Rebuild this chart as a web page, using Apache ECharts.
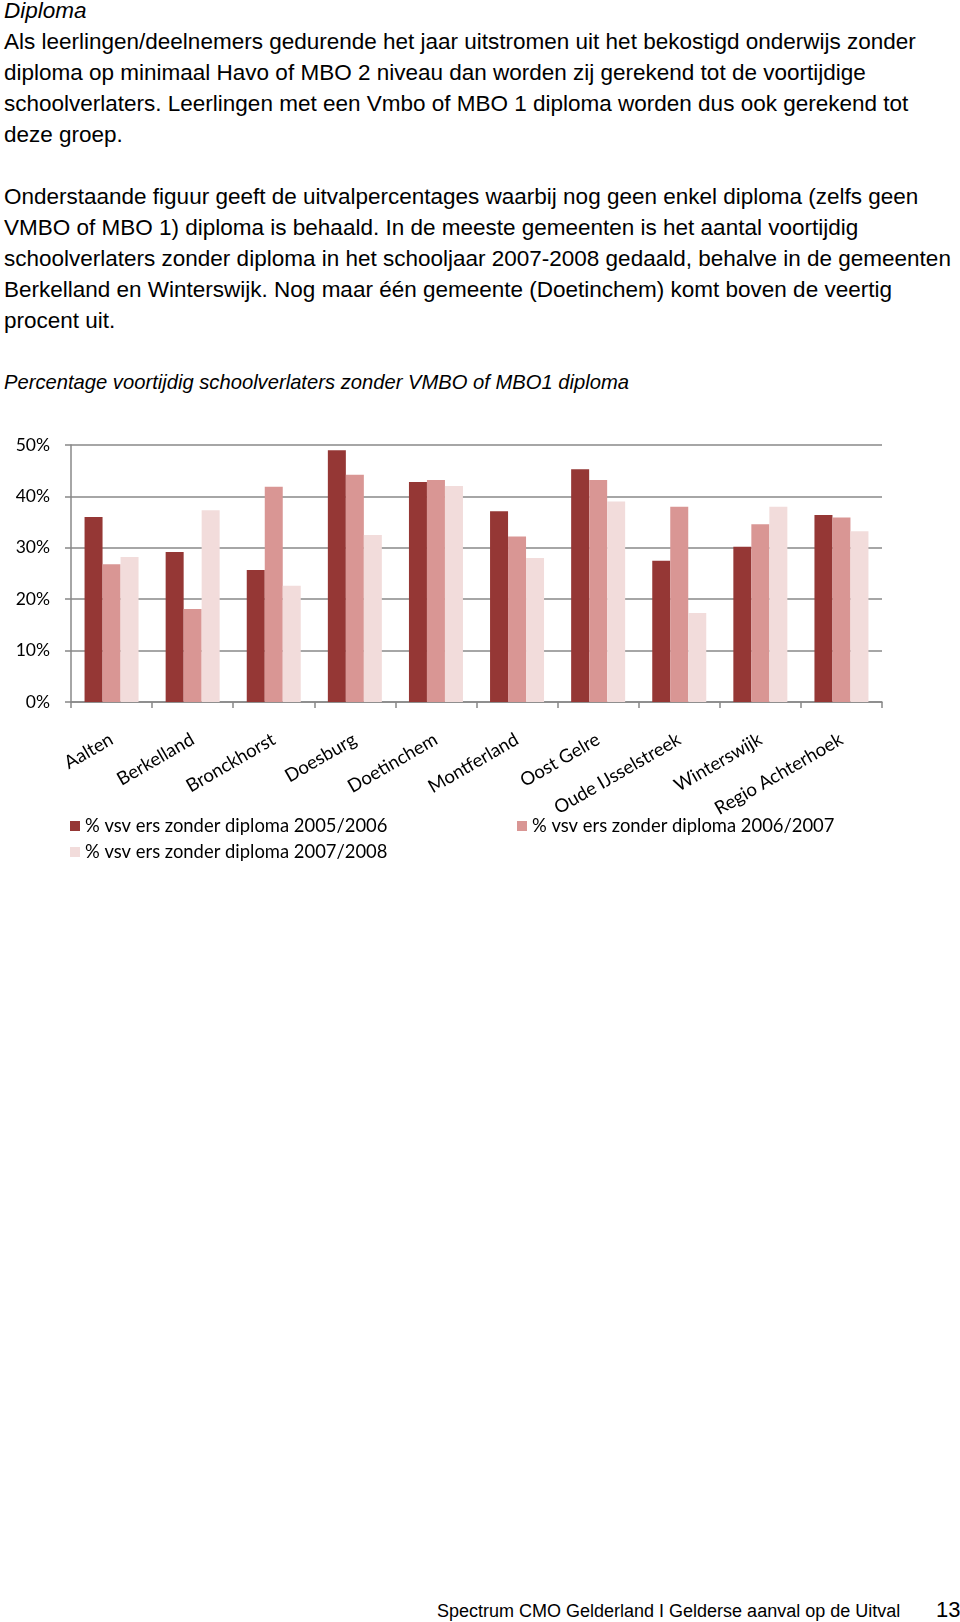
<!DOCTYPE html>
<html>
<head>
<meta charset="utf-8">
<script src="https://cdn.jsdelivr.net/npm/echarts@6/dist/echarts.min.js"></script>
<style>
html, body { margin: 0; padding: 0; background: #fff; }
body { width: 960px; height: 1622px; position: relative; overflow: hidden; }
.txt { position: absolute; left: 4px; top: -5px; font-family: "Liberation Sans", Arial, sans-serif; font-size: 22.5px; line-height: 31px; color: #000; white-space: nowrap; }
.txt div { height: 31px; }
.it { font-style: italic; }
#chart { position: absolute; left: 0; top: 400px; width: 960px; height: 480px; }
#footer { position: absolute; left: 437px; top: 1600px; font-family: "Liberation Sans", Arial, sans-serif; font-size: 18px; line-height: 22px; color: #000; white-space: nowrap; }
#page { position: absolute; left: 936px; top: 1597px; font-family: "Liberation Sans", Arial, sans-serif; font-size: 22px; line-height: 26px; color: #000; }
</style>
</head>
<body>
<div class="txt">
  <div class="it">Diploma</div>
  <div>Als leerlingen/deelnemers gedurende het jaar uitstromen uit het bekostigd onderwijs zonder</div>
  <div>diploma op minimaal Havo of MBO 2 niveau dan worden zij gerekend tot de voortijdige</div>
  <div>schoolverlaters. Leerlingen met een Vmbo of MBO 1 diploma worden dus ook gerekend tot</div>
  <div>deze groep.</div>
  <div></div>
  <div>Onderstaande figuur geeft de uitvalpercentages waarbij nog geen enkel diploma (zelfs geen</div>
  <div>VMBO of MBO 1) diploma is behaald. In de meeste gemeenten is het aantal voortijdig</div>
  <div>schoolverlaters zonder diploma in het schooljaar 2007-2008 gedaald, behalve in de gemeenten</div>
  <div>Berkelland en Winterswijk. Nog maar één gemeente (Doetinchem) komt boven de veertig</div>
  <div>procent uit.</div>
  <div></div>
  <div class="it" style="font-size:20.2px">Percentage voortijdig schoolverlaters zonder VMBO of MBO1 diploma</div>
</div>
<div id="chart"></div>
<div id="footer">Spectrum CMO Gelderland I Gelderse aanval op de Uitval</div>
<div id="page">13</div>
<script>
var categories = ['Aalten', 'Berkelland', 'Bronckhorst', 'Doesburg', 'Doetinchem', 'Montferland', 'Oost Gelre', 'Oude IJsselstreek', 'Winterswijk', 'Regio Achterhoek'];
var seriesNames = ['% vsv ers zonder diploma 2005/2006', '% vsv ers zonder diploma 2006/2007', '% vsv ers zonder diploma 2007/2008'];
var vals2005 = [36.0, 29.2, 25.7, 49.0, 42.8, 37.1, 45.3, 27.5, 30.2, 36.4];
var vals2006 = [26.8, 18.1, 41.9, 44.2, 43.2, 32.2, 43.2, 38.0, 34.6, 35.9];
var vals2007 = [28.2, 37.3, 22.6, 32.5, 42.0, 28.0, 39.0, 17.3, 38.0, 33.2];
var yTicks = [0, 10, 20, 30, 40, 50];
var colors = ['#953735', '#D99694', '#F2DCDB'];

var chart = echarts.init(document.getElementById('chart'), null, { renderer: 'canvas' });
var labelFont = 'Lato, "Open Sans", sans-serif';
var legendBase = {
  orient: 'horizontal', itemWidth: 10, itemHeight: 10, itemGap: 10,
  icon: 'rect', padding: 0,
  textStyle: { fontFamily: labelFont, fontSize: 18.4, color: '#000' }
};
chart.setOption({
  animation: false,
  color: colors,
  grid: { left: 71, right: 78, top: 45, bottom: 178, containLabel: false },
  legend: [
    Object.assign({}, legendBase, { left: 70, top: 417, data: [seriesNames[0]] }),
    Object.assign({}, legendBase, { left: 517, top: 417, data: [seriesNames[1]] }),
    Object.assign({}, legendBase, { left: 70, top: 443, data: [seriesNames[2]] })
  ],
  xAxis: {
    type: 'category',
    data: categories,
    boundaryGap: true,
    axisLine: { show: true, lineStyle: { color: '#888', width: 1.5 } },
    axisTick: { show: true, length: 6, alignWithLabel: false, lineStyle: { color: '#888', width: 1.5 } },
    axisLabel: { rotate: 30, margin: 36, interval: 0, fontFamily: labelFont, fontSize: 18.5, color: '#000' }
  },
  yAxis: {
    type: 'value',
    min: yTicks[0], max: yTicks[yTicks.length - 1], interval: 10,
    axisLine: { show: true, lineStyle: { color: '#888', width: 1.5 } },
    axisTick: { show: true, length: 6, lineStyle: { color: '#888', width: 1.5 } },
    splitLine: { show: true, lineStyle: { color: '#888', width: 1.5 } },
    axisLabel: { margin: 21, fontFamily: labelFont, fontSize: 17.5, color: '#000', formatter: '{value}%' }
  },
  series: [
    { name: seriesNames[0], type: 'bar', data: vals2005, barWidth: 18, barGap: '0%' },
    { name: seriesNames[1], type: 'bar', data: vals2006, barWidth: 18, barGap: '0%' },
    { name: seriesNames[2], type: 'bar', data: vals2007, barWidth: 18, barGap: '0%' }
  ]
});
</script>
</body>
</html>
